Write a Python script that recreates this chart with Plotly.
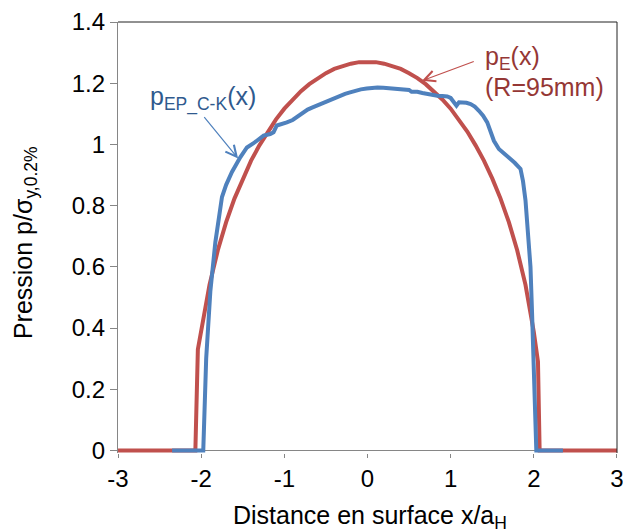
import plotly.graph_objects as go

# ---- data ----
red_x = [-3.0, -2.07, -2.04, -2.0, -1.9, -1.8, -1.7, -1.6, -1.5, -1.4, -1.3, -1.2, -1.1, -1.0,
         -0.9, -0.8, -0.7, -0.6, -0.5, -0.4, -0.3, -0.2, -0.1, 0.0, 0.1, 0.2, 0.3, 0.4, 0.5,
         0.6, 0.7, 0.8, 0.9, 1.0, 1.1, 1.2, 1.3, 1.4, 1.5, 1.6, 1.7, 1.8, 1.9, 2.0, 2.05, 2.07, 3.0]
red_y = [0.0, 0.0, 0.33, 0.387, 0.541, 0.654, 0.746, 0.823, 0.889, 0.947, 0.997, 1.042, 1.082, 1.117,
         1.147, 1.174, 1.197, 1.217, 1.233, 1.247, 1.257, 1.264, 1.269, 1.270, 1.269, 1.264, 1.257, 1.247, 1.233,
         1.217, 1.197, 1.174, 1.147, 1.117, 1.082, 1.042, 0.997, 0.947, 0.889, 0.823, 0.746, 0.654, 0.541, 0.387, 0.29, 0.0, 0.0]

blue_x = [-2.35, -1.975, -1.94, -1.89, -1.83, -1.75, -1.70, -1.63, -1.53, -1.45, -1.37, -1.30, -1.25,
          -1.17, -1.13, -1.09, -1.03, -0.97, -0.90, -0.85, -0.79, -0.76, -0.72, -0.66, -0.61, -0.55,
          -0.48, -0.41, -0.33, -0.27, -0.21, -0.15, -0.08, -0.01, 0.06, 0.12, 0.19, 0.26, 0.33, 0.39,
          0.46, 0.50, 0.53, 0.60, 0.66, 0.71, 0.77, 0.84, 0.90, 0.96, 1.00, 1.03, 1.07, 1.10, 1.14,
          1.19, 1.24, 1.29, 1.34, 1.39, 1.44, 1.48, 1.52, 1.58, 1.64, 1.70, 1.77, 1.84, 1.87, 1.90,
          1.93, 1.96, 1.98, 2.01, 2.03, 2.35]
blue_y = [0.0, 0.0, 0.30, 0.52, 0.68, 0.828, 0.868, 0.910, 0.958, 0.990, 1.004, 1.020, 1.029,
          1.034, 1.040, 1.062, 1.066, 1.072, 1.080, 1.090, 1.104, 1.106, 1.114, 1.121, 1.127, 1.133,
          1.141, 1.149, 1.158, 1.165, 1.170, 1.175, 1.180, 1.183, 1.186, 1.186, 1.185, 1.184, 1.183, 1.182,
          1.178, 1.178, 1.172, 1.172, 1.168, 1.165, 1.163, 1.159, 1.158, 1.157, 1.152, 1.143, 1.127, 1.138, 1.138,
          1.136, 1.132, 1.124, 1.110, 1.094, 1.072, 1.045, 1.012, 0.985, 0.972, 0.958, 0.940, 0.920, 0.880, 0.817,
          0.70, 0.60, 0.44, 0.22, 0.0, 0.0]

x_ticks = [-3, -2, -1, 0, 1, 2, 3]
x_tick_labels = ["-3", "-2", "-1", "0", "1", "2", "3"]
y_ticks = [0, 0.2, 0.4, 0.6, 0.8, 1.0, 1.2, 1.4]
y_tick_labels = ["0", "0.2", "0.4", "0.6", "0.8", "1", "1.2", "1.4"]

FONT = "Arial, Liberation Sans, sans-serif"
RED = "#C0504D"
BLUE = "#4F81BD"
RED_TXT = "#953735"
BLUE_TXT = "#2F5A8E"
AX = "#868686"

fig = go.Figure()
fig.add_trace(go.Scatter(x=red_x, y=red_y, mode="lines", line=dict(color=RED, width=4),
                         showlegend=False, hoverinfo="skip"))
fig.add_trace(go.Scatter(x=blue_x, y=blue_y, mode="lines", line=dict(color=BLUE, width=4),
                         showlegend=False, hoverinfo="skip"))

fig.update_layout(
    width=623, height=531,
    margin=dict(l=118, r=6, t=22, b=78),
    paper_bgcolor="white", plot_bgcolor="white",
    font=dict(family=FONT, size=24, color="black"),
    xaxis=dict(range=[-3.0004, 3.0004], tickvals=x_ticks, ticktext=x_tick_labels, showgrid=False,
               zeroline=False, showline=False, ticks="outside", ticklen=4, tickcolor=AX,
               tickwidth=1, tickfont=dict(size=24), automargin=False, ticklabeloverflow="allow"),
    yaxis=dict(range=[-0.0085, 1.4002], tickvals=y_ticks, ticktext=y_tick_labels, showgrid=False,
               zeroline=True, zerolinecolor=AX, zerolinewidth=1.3,
               showline=True, linecolor=AX, linewidth=1.3, ticks="outside", ticklen=7,
               tickcolor=AX, tickwidth=1, tickfont=dict(size=24), automargin=False,
               ticklabeloverflow="allow"),
)

# top and right border of the plot area
fig.add_shape(type="line", xref="paper", yref="paper", x0=0, x1=1, y0=1, y1=1,
              line=dict(color="#222222", width=1))
fig.add_shape(type="line", xref="paper", yref="paper", x0=1, x1=1, y0=0, y1=1,
              line=dict(color="#222222", width=1))

# axis titles
fig.add_annotation(text="Distance en surface x/a<sub>H</sub>", xref="paper", yref="paper",
                   x=0.505, y=0, yanchor="middle", yshift=-64, showarrow=False,
                   font=dict(size=25, color="black"))
fig.add_annotation(text="Pression p/σ<sub>y,0.2%</sub>", xref="paper", yref="paper",
                   x=0, y=0.487, xanchor="center", yanchor="middle", xshift=-93, textangle=-90,
                   showarrow=False, font=dict(size=25, color="black"))

# labels
fig.add_annotation(text="p<sub>EP_C-K</sub>(x)", x=-2.635, y=1.15, xanchor="left", yanchor="middle",
                   showarrow=False, font=dict(size=25, color=BLUE_TXT))
fig.add_annotation(text="", x=-1.556, y=0.954, ax=-1.978, ay=1.094, axref="x", ayref="y",
                   showarrow=True, arrowhead=5, arrowsize=1.8, arrowwidth=1.2, arrowcolor=BLUE)
fig.add_annotation(text="p<sub>E</sub>(x)", x=1.386, y=1.235, xanchor="left", yanchor="bottom",
                   yshift=-3, showarrow=False, font=dict(size=25, color=RED_TXT))
fig.add_annotation(text="(R=95mm)", x=1.386, y=1.235, xanchor="left", yanchor="top",
                   yshift=2, showarrow=False, font=dict(size=25, color=RED_TXT))
fig.add_annotation(text="", x=0.655, y=1.208, ax=1.296, ay=1.273, axref="x", ayref="y",
                   showarrow=True, arrowhead=5, arrowsize=1.8, arrowwidth=1.2, arrowcolor=RED)

fig.write_html("out.html", config={"displayModeBar": False},
               post_script="document.body.style.margin='0';document.body.style.overflow='hidden';")
